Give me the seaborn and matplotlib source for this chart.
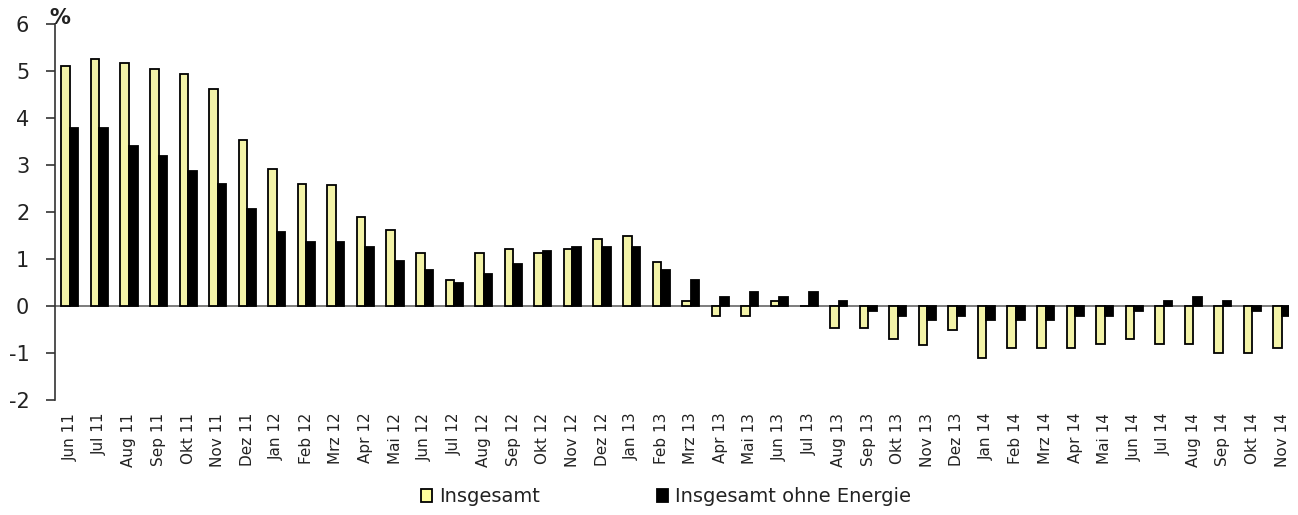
import numpy as np
import pandas as pd
import seaborn as sns
import matplotlib
matplotlib.use("Agg")
import matplotlib.pyplot as plt
from matplotlib.patches import Patch

#####################################################
## Data
months = ["Jun 11", "Jul 11", "Aug 11", "Sep 11", "Okt 11", "Nov 11", "Dez 11",
          "Jan 12", "Feb 12", "Mrz 12", "Apr 12", "Mai 12", "Jun 12", "Jul 12",
          "Aug 12", "Sep 12", "Okt 12", "Nov 12", "Dez 12",
          "Jan 13", "Feb 13", "Mrz 13", "Apr 13", "Mai 13", "Jun 13", "Jul 13",
          "Aug 13", "Sep 13", "Okt 13", "Nov 13", "Dez 13",
          "Jan 14", "Feb 14", "Mrz 14", "Apr 14", "Mai 14", "Jun 14", "Jul 14",
          "Aug 14", "Sep 14", "Okt 14", "Nov 14"]

insgesamt = [5.1, 5.25, 5.17, 5.05, 4.95, 4.62, 3.53,
             2.92, 2.6, 2.58, 1.9, 1.62, 1.14, 0.55,
             1.14, 1.21, 1.14, 1.21, 1.42,
             1.5, 0.93, 0.1, -0.2, -0.2, 0.1, 0.0,
             -0.47, -0.47, -0.7, -0.82, -0.5,
             -1.1, -0.9, -0.9, -0.9, -0.8, -0.7, -0.8,
             -0.8, -1.0, -1.0, -0.9]

ohne_energie = [3.8, 3.8, 3.4, 3.2, 2.88, 2.6, 2.07,
                1.57, 1.37, 1.37, 1.26, 0.97, 0.78, 0.5,
                0.68, 0.89, 1.17, 1.25, 1.26,
                1.26, 0.78, 0.55, 0.2, 0.3, 0.2, 0.3,
                0.1, -0.1, -0.2, -0.3, -0.2,
                -0.3, -0.3, -0.3, -0.2, -0.2, -0.1, 0.1,
                0.2, 0.1, -0.1, -0.2]

series_names = ["Insgesamt", "Insgesamt ohne Energie"]
colors = ["#FFFF9C", "#000000"]
#####################################################

df = pd.DataFrame({
    "Monat": months * 2,
    "Wert": insgesamt + ohne_energie,
    "Reihe": [series_names[0]] * len(months) + [series_names[1]] * len(months),
})

sns.set_style("white")
plt.rcParams["font.family"] = ["DejaVu Sans"]
plt.rcParams["axes.unicode_minus"] = False

fig = plt.figure(figsize=(12.98, 5.15), dpi=100)
ax = fig.add_axes([0.0424, 0.223, 0.951, 0.730])

sns.barplot(data=df, x="Monat", y="Wert", hue="Reihe", order=months,
            hue_order=series_names, palette=colors, width=0.58,
            edgecolor="black", linewidth=1.3, ax=ax, legend=False)

ax.axhline(0, color="#666666", lw=1.2, zorder=0.5)
ax.set_xlim(-0.5, 41.25)
ax.set_ylim(-2, 6)
ax.set_yticks(range(-2, 7))
ax.set_xlabel("")
ax.set_ylabel("")

for s in ["top", "right", "bottom"]:
    ax.spines[s].set_visible(False)
ax.spines["left"].set_color("#333333")
ax.spines["left"].set_linewidth(1.2)

ax.tick_params(axis="y", direction="out", length=6.5, width=1.2, color="#333333",
               pad=12, labelsize=15, labelcolor="#222222", left=True)
ax.tick_params(axis="x", length=0, pad=9, labelsize=11, labelcolor="#222222",
               rotation=90)

# "%" sits on top of the y axis, crossing the 6 tick
ax.text(0.004, 1.016, "%", transform=ax.transAxes, fontsize=15,
        fontweight="bold", ha="center", va="center", color="#222222")

handles = [Patch(facecolor=colors[0], edgecolor="black", lw=1.3),
           Patch(facecolor=colors[1], edgecolor="black", lw=1.3)]
fig.legend(handles, series_names, loc="center", bbox_to_anchor=(0.513, 0.035),
           ncol=2, frameon=False, fontsize=14, handlelength=0.6,
           handleheight=0.6, handletextpad=0.35, columnspacing=6.0,
           labelcolor="#222222")

fig.savefig("out.png", dpi=100)
